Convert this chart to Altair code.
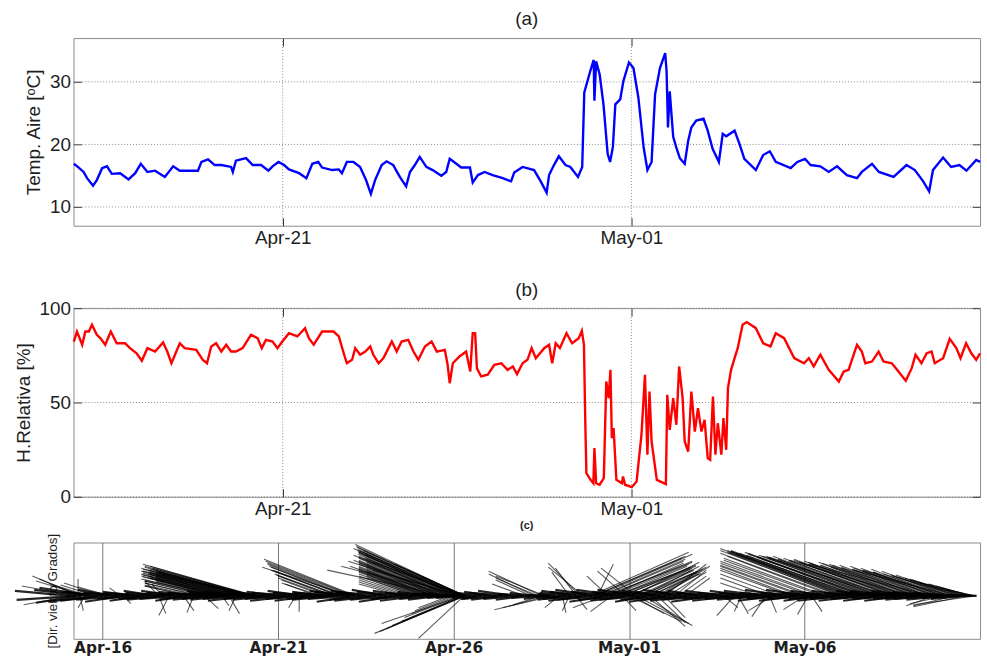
import altair as alt
import pandas as pd

FONT = "Liberation Sans"
START = pd.Timestamp("2013-04-15 00:00:00")

# ---------------- (a) air temperature: day offset from Apr-15, value in degC
TEMP_DAY = [0.01, 0.15, 0.29, 0.39, 0.56, 0.67, 0.82, 0.96, 1.10, 1.34, 1.58, 1.77, 1.93, 2.12, 2.34, 2.62,
            2.86, 3.05, 3.33, 3.57, 3.67, 3.86, 4.05, 4.24, 4.52, 4.57, 4.66, 4.95, 5.14, 5.38, 5.59, 5.71,
            5.88, 6.04, 6.18, 6.47, 6.68, 6.85, 7.02, 7.13, 7.42, 7.61, 7.70, 7.84, 8.03, 8.22, 8.39, 8.53,
            8.65, 8.84, 8.98, 9.17, 9.36, 9.54, 9.65, 9.79, 9.93, 10.12, 10.30, 10.55, 10.69, 10.79, 10.98,
            11.12, 11.37, 11.45, 11.60, 11.79, 12.02, 12.31, 12.55, 12.64, 12.88, 13.21, 13.40, 13.57, 13.64,
            13.78, 13.92, 14.11, 14.25, 14.47, 14.59, 14.65, 14.82, 14.92, 14.94, 14.99, 15.09, 15.20, 15.32,
            15.39, 15.47, 15.54, 15.68, 15.77, 15.93, 16.06, 16.20, 16.35, 16.46, 16.58, 16.68, 16.82, 16.97,
            17.01, 17.05, 17.10, 17.20, 17.29, 17.39, 17.53, 17.63, 17.72, 17.86, 18.07, 18.19, 18.33, 18.51,
            18.62, 18.72, 18.96, 19.10, 19.24, 19.57, 19.78, 19.97, 20.14, 20.57, 20.76, 20.98, 21.14, 21.42,
            21.66, 21.90, 22.18, 22.47, 22.61, 22.90, 23.10, 23.52, 23.89, 24.13, 24.37, 24.54, 24.65, 24.94,
            25.17, 25.41, 25.61, 25.89, 26.0]
TEMP_VAL = [16.9, 16.3, 15.6, 14.6, 13.4, 14.3, 16.2, 16.5, 15.3, 15.4, 14.4, 15.4, 16.9, 15.6, 15.8, 14.8,
            16.5, 15.8, 15.8, 15.8, 17.2, 17.6, 16.7, 16.7, 16.4, 15.6, 17.4, 17.8, 16.7, 16.7, 15.8, 16.5,
            17.2, 16.7, 16.0, 15.4, 14.6, 16.9, 17.2, 16.3, 15.9, 16.0, 15.4, 17.2, 17.2, 16.4, 14.3, 12.1,
            14.3, 16.7, 17.3, 16.7, 14.8, 13.3, 15.6, 16.7, 18.0, 16.4, 15.9, 15.0, 15.6, 17.7, 16.9,
            16.3, 16.3, 13.9, 15.1, 15.6, 15.1, 14.6, 14.1, 15.5, 16.4, 15.9, 14.1, 12.3, 15.1,
            16.7, 18.1, 16.7, 16.4, 14.8, 16.4, 28.3, 31.7, 33.5, 27.0, 33.3, 31.2, 26.4, 18.5,
            17.2, 19.6, 26.4, 27.2, 30.1, 33.1, 32.2, 27.5, 19.6, 15.9, 17.2, 28.0, 32.2, 34.6,
            31.7, 22.7, 28.5, 21.2, 19.5, 17.8, 16.9, 20.6, 22.7, 23.8, 24.1, 22.2, 19.3, 17.2,
            21.7, 21.3, 22.2, 20.1, 17.7, 15.9, 18.3, 18.9, 17.2, 16.2, 17.2, 17.7, 16.7, 16.5,
            15.6, 16.5, 15.1, 14.6, 15.6, 16.9, 15.6, 14.8, 16.7, 15.9, 14.1, 12.5, 15.9, 17.9,
            16.4, 16.7, 15.8, 17.5, 17.2]

# ---------------- (b) relative humidity: day offset from Apr-15, value in %
HUM_DAY = [0.01, 0.10, 0.25, 0.34, 0.44, 0.53, 0.67, 0.77, 0.91, 1.07, 1.24, 1.48, 1.62, 1.81, 1.96, 2.12,
           2.34, 2.57, 2.69, 2.81, 2.95, 3.05, 3.19, 3.52, 3.71, 3.83, 3.95, 4.09, 4.24, 4.38, 4.52, 4.66,
           4.85, 5.09, 5.28, 5.40, 5.52, 5.71, 5.85, 5.99, 6.18, 6.42, 6.64, 6.75, 6.89, 7.13, 7.46, 7.61,
           7.75, 7.84, 7.99, 8.08, 8.22, 8.37, 8.51, 8.60, 8.75, 8.89, 9.13, 9.27, 9.41, 9.60, 9.75, 9.89,
           10.08, 10.27, 10.42, 10.65, 10.73, 10.79, 10.88, 11.07, 11.26, 11.38, 11.45, 11.52, 11.57, 11.69,
           11.88, 12.07, 12.27, 12.45, 12.60, 12.72, 12.88, 13.02, 13.14, 13.26, 13.50, 13.64, 13.73, 13.83,
           13.95, 14.14, 14.30, 14.49, 14.58, 14.64, 14.68, 14.71, 14.83, 14.91, 14.94, 14.99, 15.09, 15.21,
           15.28, 15.35, 15.40, 15.44, 15.49, 15.57, 15.73, 15.76, 15.82, 16.01, 16.15, 16.29, 16.34, 16.39,
           16.46, 16.52, 16.58, 16.73, 16.99, 17.03, 17.10, 17.20, 17.29, 17.37, 17.47, 17.53, 17.63, 17.72,
           17.82, 17.91, 18.01, 18.10, 18.19, 18.26, 18.34, 18.41, 18.48, 18.58, 18.64, 18.72, 18.77, 18.86,
           18.96, 19.05, 19.19, 19.31, 19.57, 19.78, 19.99, 20.14, 20.38, 20.67, 20.95, 21.09, 21.23, 21.42,
           21.66, 21.95, 22.09, 22.23, 22.47, 22.61, 22.71, 22.90, 23.09, 23.23, 23.47, 23.66, 23.87, 24.04,
           24.15, 24.32, 24.47, 24.61, 24.70, 24.94, 25.13, 25.32, 25.44, 25.60, 25.75, 25.89, 26.0]
HUM_VAL = [82.3, 87.6, 80.6, 87.6, 87.6, 91.2, 85.9, 84.1, 80.6, 87.6, 81.4, 81.4, 78.8, 76.1, 72.1, 78.8,
           77.0, 81.8, 77.0, 70.8, 77.0, 81.4, 78.8, 77.9, 72.6, 70.8, 79.7, 81.4, 77.0, 80.6, 77.0, 77.0,
           78.8, 85.9, 84.1, 78.8, 83.2, 82.3, 78.8, 82.3, 86.7, 85.0, 89.4, 84.1, 80.6, 87.6, 87.6, 85.0,
           76.1, 70.8, 72.6, 78.8, 75.3, 77.0, 79.7, 75.3, 70.8, 73.5, 82.3, 77.0, 82.3, 83.2, 77.0, 72.6,
           79.7, 82.3, 77.0, 77.9, 70.0, 60.2, 70.8, 74.4, 77.0, 66.4, 86.7, 86.7, 68.2, 63.8,
           64.7, 70.0, 70.8, 67.3, 69.1, 65.0, 70.8, 72.6, 78.8, 73.5, 78.8, 80.6, 70.8, 81.4,
           78.8, 86.7, 81.4, 84.1, 88.0, 80.6, 38.2, 12.5, 9.0, 7.2, 25.8, 7.2, 6.4, 9.9,
           61.1, 52.3, 67.3, 31.1, 36.4, 9.0, 7.2, 10.8, 6.4, 5.1, 8.1, 32.9, 48.8, 64.7,
           22.3, 55.8, 29.3, 9.0, 6.7, 54.1, 35.5, 52.3, 38.2, 69.1, 52.3, 29.3, 24.0, 55.8,
           34.6, 47.0, 34.6, 40.8, 20.5, 19.6, 53.2, 22.3, 39.0, 22.3, 41.7, 24.9, 57.6, 67.3,
           73.5, 78.8, 91.2, 92.6, 89.4, 81.4, 79.7, 86.7, 84.1, 73.5, 70.8, 73.5, 69.1, 75.3,
           67.3, 61.1, 66.4, 67.3, 80.6, 77.0, 70.8, 71.7, 77.0, 71.7, 70.8, 66.4, 61.5, 68.2,
           75.3, 70.8, 76.1, 77.0, 70.8, 73.5, 83.7, 78.8, 73.5, 81.4, 76.1, 72.6, 76.1]

# ---------------- (c) wind feathers: origin day, dx in days, dy
BAND_T = [0.1, 0.4, 0.7, 1.0, 1.3, 1.6, 1.9, 2.2, 2.5, 2.8, 3.1, 3.4, 3.7, 4.0, 4.3, 4.6, 4.9, 5.2, 5.5,
          5.8, 6.1, 6.4, 6.7, 7.0, 7.3, 7.6, 7.9, 8.2, 8.5, 8.8, 9.1, 9.4, 9.7, 10.0, 10.3, 10.6, 10.9,
          11.2, 11.5, 11.8, 12.1, 12.4, 12.7, 13.0, 13.3, 13.6, 13.9, 14.2, 14.5, 14.8, 15.1, 15.4, 15.7,
          16.0, 16.3, 16.6, 16.9, 17.2, 17.5, 17.8, 18.1, 18.4, 18.7, 19.0, 19.3, 19.6, 19.9, 20.2, 20.5,
          20.8, 21.1, 21.4, 21.7, 22.0, 22.3, 22.6, 22.9, 23.2, 23.5, 23.8, 24.1, 24.4, 24.7, 25.0, 25.3,
          25.6, 25.9]
BAND_U = [-1.6, -1.3, -1.5, -1.2, -1.0, -1.1, -0.9, -1.0, -0.9, -1.1, -1.0, -0.9, -1.1, -1.0, -0.9, -1.1,
          -1.0, -1.2, -1.0, -1.1, -1.0, -1.2, -1.0, -1.1, -0.9, -1.2, -1.0, -1.1, -1.0, -1.2, -1.0, -1.1,
          -1.0, -1.1, -0.9, -0.9, -0.8, -0.7, -0.5, -0.6, -0.8, -0.9, -1.0, -0.8, -0.7, -0.6, -0.5, -0.8,
          -1.0, -1.1, -1.2, -1.1, -1.2, -1.1, -1.2, -1.0, -1.1, -1.2, -1.1, -1.2, -1.0, -1.2, -1.1, -1.2,
          -1.0, -1.1, -1.2, -1.1, -1.2, -1.1, -1.2, -1.0, -1.1, -1.2, -1.1, -1.2, -1.0, -1.1, -1.2, -1.1,
          -1.2, -1.1, -1.2, -1.1, -1.2, -1.0, -1.1]
BAND_V = [0.5, -0.7, 0.8, -0.5, 0.6, -0.6, 0.4, -0.5, 0.5, -0.4, 0.5, -0.5, 0.4, -0.4, 0.5, -0.4,
          0.4, -0.5, 0.5, -0.4, 0.4, -0.5, 0.5, -0.5, 0.4, -0.4, 0.5, -0.6, 0.5, -0.5, 0.6, -0.6,
          0.5, -0.5, 0.4, -0.4, 0.3, -0.2, 0.15, -0.3, 0.4, -0.4, 0.5, -0.4, 0.3, -0.3, 0.2, -0.4,
          0.5, -0.5, 0.6, -0.6, 0.6, -0.5, 0.6, -0.6, 0.5, -0.6, 0.6, -0.5, 0.5, -0.6, 0.5, -0.5,
          0.5, -0.4, 0.5, -0.5, 0.6, -0.5, 0.6, -0.5, 0.5, -0.5, 0.5, -0.5, 0.5, -0.5, 0.5, -0.5,
          0.5, -0.4, 0.4, -0.4, 0.3, -0.3, 0.1]
BAND2_T = [0.25, 0.55, 0.85, 1.15, 1.45, 1.75, 2.05, 2.35, 2.65, 2.95,
           3.25, 3.55, 3.85, 4.15, 4.45, 4.75, 5.05, 5.35, 5.65, 5.95,
           6.25, 6.55, 6.85, 7.15, 7.45, 7.75, 8.05, 8.35, 8.65, 8.95,
           9.25, 9.55, 9.85, 10.15, 10.45, 10.75, 11.05, 11.35, 11.65, 11.95,
           12.25, 12.55, 12.85, 13.15, 13.45, 13.75, 14.05, 14.35, 14.65, 14.95,
           15.25, 15.55, 15.85, 16.15, 16.45, 16.75, 17.05, 17.35, 17.65, 17.95,
           18.25, 18.55, 18.85, 19.15, 19.45, 19.75, 20.05, 20.35, 20.65, 20.95,
           21.25, 21.55, 21.85, 22.15, 22.45, 22.75, 23.05, 23.35, 23.65, 23.95,
           24.25, 24.55, 24.85, 25.15, 25.45, 25.75]
BAND2_U = [-1.7, -1.5, -1.4, -1.3, -1.2, -1.3, -1.2, -1.3, -1.2, -1.3,
           -1.2, -1.3, -1.2, -1.3, -1.2, -1.3, -1.2, -1.3, -1.2, -1.3,
           -1.2, -1.3, -1.2, -1.3, -1.2, -1.3, -1.2, -1.3, -1.2, -1.3,
           -1.2, -1.3, -1.2, -1.1, -1.0, -0.9, -0.8, -0.6, -0.7, -0.9,
           -1.0, -1.1, -1.0, -0.9, -0.8, -0.6, -0.7, -0.9, -1.1, -1.2,
           -1.3, -1.2, -1.3, -1.2, -1.3, -1.2, -1.3, -1.2, -1.3, -1.2,
           -1.3, -1.2, -1.3, -1.2, -1.3, -1.2, -1.3, -1.2, -1.3, -1.2,
           -1.3, -1.2, -1.3, -1.2, -1.3, -1.2, -1.3, -1.2, -1.3, -1.2,
           -1.3, -1.2, -1.3, -1.2, -1.1, -1.0]
BAND2_V = [-0.4, 0.6, -0.6, 0.4, -0.4, 0.3, -0.3, 0.3, -0.3, 0.3,
           -0.3, 0.3, -0.3, 0.3, -0.3, 0.3, -0.3, 0.3, -0.3, 0.3,
           -0.3, 0.3, -0.3, 0.3, -0.3, 0.3, -0.3, 0.4, -0.4, 0.4,
           -0.4, 0.4, -0.3, 0.3, -0.3, 0.2, -0.2, 0.1, -0.2, 0.3,
           -0.3, 0.3, -0.3, 0.2, -0.2, 0.1, -0.2, 0.3, -0.3, 0.4,
           -0.4, 0.4, -0.4, 0.4, -0.4, 0.4, -0.4, 0.4, -0.4, 0.4,
           -0.4, 0.3, -0.3, 0.3, -0.3, 0.3, -0.3, 0.3, -0.3, 0.3,
           -0.3, 0.3, -0.3, 0.3, -0.3, 0.3, -0.3, 0.3, -0.3, 0.3,
           -0.3, 0.3, -0.3, 0.2, -0.2, 0.1]

FAN_A = [(0.3, -1.3, 2.0), (0.4, -1.2, 1.7), (0.5, -1.4, 1.5), (0.6, -1.1, 1.2), (0.3, 0.0, 1.7),
         (0.8, -1.0, 1.1), (1.0, -1.1, 1.3), (1.2, -0.9, 0.9), (0.35, 0.1, -1.5), (0.5, -0.2, -1.2),
         (1.5, -0.3, 0.8), (1.6, 0.2, -0.8), (0.2, -1.5, 1.0), (0.15, -1.4, -0.9)]
FAN_B = [(5.35, -3.2, 3.2), (5.2, -3.0, 2.9), (5.1, -2.8, 2.6), (5.0, -2.9, 2.8), (4.9, -2.6, 2.4),
         (4.8, -2.7, 2.5), (4.7, -2.4, 2.2), (4.6, -2.5, 2.2), (4.5, -2.2, 2.0), (4.4, -2.3, 2.0),
         (4.3, -2.0, 1.8), (4.2, -2.1, 1.7), (4.1, -1.9, 1.6), (4.0, -1.8, 1.5), (3.9, -1.7, 1.5),
         (3.8, -1.6, 1.3), (3.7, -1.5, 1.3), (3.6, -1.4, 1.1), (3.5, -1.3, 1.0), (3.4, -1.2, 1.0),
         (2.6, -0.4, 1.5), (2.7, -0.3, 1.2),
         (5.3, -3.1, 3.0), (5.25, -2.9, 3.0), (5.15, -3.0, 2.7), (5.05, -2.7, 2.7), (4.95, -2.8, 2.5),
         (4.85, -2.5, 2.4), (4.75, -2.6, 2.3), (4.65, -2.3, 2.2), (4.55, -2.4, 2.1), (4.45, -2.1, 1.9),
         (4.35, -2.2, 1.9), (4.25, -1.9, 1.8), (5.3, -2.7, 2.4), (5.2, -2.5, 2.1),
         (5.33, -2.9, 2.8), (5.22, -2.8, 2.7), (5.12, -2.6, 2.5), (5.02, -2.5, 2.4), (4.92, -2.4, 2.3),
         (4.82, -2.3, 2.1), (4.72, -2.2, 2.0), (4.62, -2.1, 1.9), (4.52, -2.0, 1.8), (4.42, -1.9, 1.7),
         (4.32, -1.8, 1.6), (4.22, -1.7, 1.5), (4.12, -1.6, 1.4), (5.35, -2.2, 1.8), (5.3, -1.8, 1.4),
         (5.25, -1.4, 1.1),
         (2.6, 0.2, -1.8), (2.9, -0.3, -2.0), (3.3, 0.3, -1.5), (3.6, -0.2, -1.7), (3.9, 0.4, -1.3),
         (4.4, 0.2, -1.0), (4.6, 0.3, -1.8), (4.8, -0.2, -1.5), (6.6, 0.0, -1.6), (6.5, -0.2, -1.2)]
FAN_C = [(8.2, -2.6, 3.7), (8.1, -2.4, 3.3), (8.0, -2.3, 3.2), (7.9, -2.1, 2.9), (7.8, -2.0, 2.6),
         (7.7, -1.8, 2.5), (7.6, -1.7, 2.2), (7.5, -1.5, 2.0), (7.4, -1.4, 1.8), (7.3, -1.2, 1.6),
         (7.2, -1.1, 1.3), (7.1, -0.9, 1.2), (8.05, -2.5, 2.9),
         (8.15, -2.5, 3.5), (7.95, -2.2, 3.0), (7.75, -1.9, 2.6), (7.55, -1.6, 2.1)]
FAN_D = [(11.3, -3.1, 5.2), (11.25, -3.0, 4.9), (11.2, -2.9, 4.6), (11.15, -3.0, 4.8), (11.1, -2.8, 4.4),
         (11.0, -2.7, 4.3), (10.95, -2.8, 4.1), (10.9, -2.6, 4.0), (10.8, -2.5, 3.8), (10.75, -2.6, 3.6),
         (10.7, -2.4, 3.6), (10.6, -2.3, 3.4), (10.5, -2.2, 3.2), (10.45, -2.4, 3.0), (10.4, -2.1, 3.0),
         (10.3, -2.0, 2.8), (10.2, -1.9, 2.6), (10.1, -1.8, 2.4), (10.0, -1.7, 2.2), (9.9, -1.6, 2.0),
         (9.8, -1.5, 1.8), (9.7, -1.4, 1.6), (9.6, -1.3, 1.4), (9.5, -1.2, 1.2), (11.0, -3.2, 3.0),
         (10.8, -3.4, 2.6), (11.2, -2.5, 2.6),
         (11.28, -3.05, 5.0), (11.22, -2.95, 4.7), (11.12, -2.85, 4.5), (11.05, -2.75, 4.4),
         (10.98, -2.7, 4.2), (10.85, -2.55, 3.9), (10.65, -2.35, 3.5), (10.55, -2.25, 3.3),
         (10.35, -2.05, 2.9), (10.25, -1.95, 2.7), (10.15, -1.85, 2.5), (11.3, -2.6, 3.4),
         (11.25, -2.8, 3.8), (11.1, -3.1, 3.5),
         (11.32, -2.9, 4.6), (11.18, -2.7, 4.3), (11.08, -2.6, 4.1), (10.92, -2.4, 3.8), (10.82, -2.3, 3.6),
         (10.72, -2.2, 3.4), (10.62, -2.1, 3.2), (10.52, -2.0, 3.0), (10.42, -1.9, 2.8), (10.32, -1.8, 2.6),
         (10.22, -1.7, 2.4), (10.12, -1.6, 2.2), (10.02, -1.5, 2.0), (9.92, -1.4, 1.8), (11.33, -2.0, 3.2),
         (11.3, -1.6, 2.6), (11.28, -1.2, 1.9),
         (11.35, -2.6, -3.8), (11.3, -2.4, -3.6), (11.3, -2.2, -3.3), (11.25, -2.0, -3.0), (11.3, -1.3, -4.3),
         (11.3, -1.8, -2.6), (11.2, -1.6, -2.2), (11.25, -2.3, -2.8), (11.1, -1.3, -1.8), (11.0, -1.1, -1.5),
         (10.9, -0.9, -1.2)]
FAN_E = [(13.5, -1.5, 2.5), (13.3, -1.3, 2.2), (13.6, -1.4, 2.0), (13.2, -1.0, 1.6), (13.4, -1.2, 1.8),
         (13.0, -0.9, 1.2), (13.86, -1.7, -1.4), (13.7, -1.3, -1.2), (13.5, -0.8, -0.9),
         (14.6, -0.9, 3.3), (14.5, -0.6, 2.8), (14.3, -0.5, 2.4), (14.7, -1.0, 2.9), (15.1, 0.45, 3.2),
         (14.1, 0.1, -1.7), (14.3, -0.2, -1.5), (14.5, 0.3, -1.4), (14.0, -0.4, -1.2)]
FAN_F = [(14.9, 2.8, 4.4), (15.0, 2.6, 4.0), (15.2, 2.4, 3.7), (15.3, 2.5, 3.4), (15.5, 2.2, 3.2),
         (15.6, 2.3, 3.0), (15.8, 2.0, 2.8), (16.0, 1.8, 2.6), (16.1, 1.9, 3.4), (16.3, 1.6, 2.4),
         (16.4, 1.6, 3.0), (16.6, 1.4, 2.2), (16.8, 1.3, 2.7), (17.0, 1.2, 3.2), (17.1, 1.1, 2.4),
         (17.3, 0.9, 2.6), (17.4, 0.8, 2.0), (17.6, 0.7, 1.8), (15.9, -0.8, 2.5), (16.2, -1.0, 2.8),
         (15.4, -0.6, 2.0), (15.1, 2.7, 4.2), (15.4, 2.4, 3.5), (15.7, 2.2, 3.1), (16.5, 1.7, 2.9),
         (16.9, 1.4, 3.0),
         (15.0, 2.5, 3.8), (15.25, 2.3, 3.5), (15.45, 2.1, 3.3), (15.65, 2.0, 3.0), (15.85, 1.9, 2.9),
         (16.05, 1.7, 2.7), (16.25, 1.6, 2.6), (16.45, 1.5, 2.5), (16.65, 1.3, 2.4), (16.85, 1.2, 2.3),
         (16.0, 1.5, -2.6), (16.2, 1.6, -3.0), (16.4, 1.3, -2.8), (16.6, 1.0, -3.1), (16.8, 0.8, -2.7),
         (17.0, 0.6, -2.2), (16.1, 0.9, -1.8), (15.8, 0.4, -1.5), (15.5, -0.6, -1.6), (15.3, -0.9, -1.2)]
FAN_G = [(22.1, -3.5, 4.8), (22.3, -3.4, 4.5), (22.0, -3.2, 4.4), (22.5, -3.6, 4.6), (22.7, -3.3, 4.3),
         (21.8, -3.0, 4.0), (22.9, -3.2, 4.1), (23.1, -3.0, 4.0), (23.3, -2.9, 3.8), (23.5, -2.8, 3.7),
         (23.7, -2.6, 3.4), (23.9, -2.5, 3.4), (24.1, -2.4, 3.2), (24.3, -2.3, 3.1), (24.5, -2.2, 3.0),
         (24.7, -2.1, 2.8), (24.9, -2.0, 2.7), (25.1, -1.9, 2.5), (25.3, -1.7, 2.1), (25.5, -1.5, 1.7),
         (25.7, -1.2, 1.2), (25.85, -0.8, 0.6), (21.5, -2.8, 3.6), (21.2, -2.6, 3.3), (20.9, -2.3, 3.0),
         (20.6, -2.0, 2.6), (20.3, -1.7, 2.2), (20.0, -1.4, 1.8), (19.7, -1.1, 1.3), (24.0, -3.4, 3.6),
         (24.6, -3.5, 3.2), (25.2, -2.8, 2.6), (23.4, -3.6, 4.0),
         (22.2, -3.4, 4.6), (22.4, -3.5, 4.5), (22.6, -3.3, 4.4), (22.8, -3.4, 4.2), (23.0, -3.1, 4.0),
         (23.2, -3.2, 3.9), (23.6, -2.9, 3.6), (23.8, -2.8, 3.5), (24.2, -2.7, 3.3), (24.4, -2.6, 3.1),
         (24.8, -2.4, 2.8), (25.0, -2.3, 2.6), (25.4, -1.9, 2.0), (25.6, -1.6, 1.6), (21.6, -2.9, 3.8),
         (21.3, -2.7, 3.5), (21.0, -2.4, 3.1), (20.7, -2.1, 2.8),
         (21.9, -3.3, 4.3), (22.05, -3.45, 4.6), (22.15, -3.3, 4.4), (22.25, -3.2, 4.2), (22.35, -3.3, 4.3),
         (22.45, -3.1, 4.1), (22.55, -3.4, 4.3), (22.65, -3.0, 3.9), (22.75, -3.1, 4.0), (22.85, -2.9, 3.8),
         (22.95, -3.0, 3.9), (23.05, -2.8, 3.7), (23.15, -2.9, 3.7), (23.25, -2.7, 3.5), (23.35, -2.8, 3.6),
         (23.45, -2.6, 3.4), (23.55, -2.7, 3.4), (23.65, -2.5, 3.2), (23.75, -2.6, 3.3), (23.85, -2.4, 3.1),
         (23.95, -2.5, 3.1), (24.05, -2.3, 2.9), (24.15, -2.4, 3.0), (24.25, -2.2, 2.8), (24.35, -2.3, 2.9),
         (24.45, -2.1, 2.7), (24.55, -2.2, 2.7), (24.65, -2.0, 2.5), (24.75, -2.1, 2.6), (24.85, -1.9, 2.4),
         (24.95, -2.0, 2.4), (25.05, -1.8, 2.2), (25.15, -1.7, 2.1), (25.25, -1.6, 1.9), (25.35, -1.5, 1.8),
         (25.45, -1.4, 1.6), (25.55, -1.3, 1.4), (25.65, -1.1, 1.2), (25.75, -1.0, 1.0), (25.8, -0.9, 0.8),
         (25.9, -1.8, -0.9), (25.6, -1.5, -1.1), (25.3, -1.2, -1.0), (25.0, -1.0, -0.8), (24.7, -0.8, -1.0),
         (19.0, -0.5, -2.0), (19.1, 0.3, -1.8), (19.2, -0.2, -1.6), (19.9, -0.4, -2.1), (20.0, 0.2, -1.7),
         (20.1, -0.7, -1.5), (21.1, -0.3, -1.9), (21.2, 0.3, -1.6), (21.0, -0.6, -1.4), (18.7, 0.4, -1.2)]

TEMP_TICKS = [10, 20, 30]
HUM_TICKS = [0, 50, 100]


def ts(day):
    return (START + pd.to_timedelta(day, unit="D")).round("s")


temp_df = pd.DataFrame({"t": [ts(d) for d in TEMP_DAY], "v": TEMP_VAL})
hum_df = pd.DataFrame({"t": [ts(d) for d in HUM_DAY], "v": HUM_VAL})

bt = BAND_T + BAND2_T
bu = BAND_U + BAND2_U
bv = BAND_V + BAND2_V
band_df = pd.DataFrame({
    "t": [ts(d) for d in bt],
    "t2": [ts(d + u) for d, u in zip(bt, bu)],
    "y0": [0.0] * len(bt),
    "y1": bv,
})
fans = FAN_A + FAN_B + FAN_C + FAN_D + FAN_E + FAN_F + FAN_G
fan_df = pd.DataFrame({
    "t": [ts(d) for d, u, v in fans],
    "t2": [ts(d + u) for d, u, v in fans],
    "y0": [0.0] * len(fans),
    "y1": [v for d, u, v in fans],
})

X_DOM = [alt.DateTime(year=2013, month=4, date=15), alt.DateTime(year=2013, month=5, date=11)]
AB_TICKS = [alt.DateTime(year=2013, month=4, date=21), alt.DateTime(year=2013, month=5, date=1)]
AB_TICK_DATES = pd.DataFrame({"t": [pd.Timestamp("2013-04-21"), pd.Timestamp("2013-05-01")]})
C_TICKS = [alt.DateTime(year=2013, month=4, date=16), alt.DateTime(year=2013, month=4, date=21),
           alt.DateTime(year=2013, month=4, date=26), alt.DateTime(year=2013, month=5, date=1),
           alt.DateTime(year=2013, month=5, date=6)]

W = 913
TXT = "#1e1e1e"
FS = 19
GRID = "#8a8a8a"


def line_panel(df, color, y_dom, y_vals, ytitle, ptitle, height, toff):
    xs = alt.Scale(domain=X_DOM)
    ys = alt.Scale(domain=y_dom, nice=False, zero=False)
    hgrid = alt.Chart(pd.DataFrame({"v": y_vals})).mark_rule(
        color=GRID, strokeDash=[1, 2], strokeWidth=1).encode(
        y=alt.Y("v:Q", scale=ys, axis=None))
    vgrid = alt.Chart(AB_TICK_DATES).mark_rule(
        color=GRID, strokeDash=[1, 2], strokeWidth=1).encode(
        x=alt.X("t:T", scale=xs, axis=None))
    base = alt.Chart(df)
    main = base.mark_line(color=color, strokeWidth=2.4).encode(
        x=alt.X("t:T", scale=xs, axis=alt.Axis(
            values=AB_TICKS, format="%b-%d", title=None, grid=False,
            tickSize=8, tickColor="#333", offset=-8, domain=False,
            labelPadding=3, labelFontSize=FS, labelColor=TXT, labelFlush=False)),
        y=alt.Y("v:Q", scale=ys, axis=alt.Axis(
            values=y_vals, grid=False, tickSize=8,
            tickColor="#333", offset=-8, domain=False, labelPadding=3, labelFontSize=FS,
            labelColor=TXT, title=ytitle, titleFontSize=FS, titleFontWeight="normal",
            titleColor=TXT, titlePadding=6)),
    )
    ghost = base.mark_line(opacity=0).encode(
        x=alt.X("t:T", scale=xs, axis=alt.Axis(
            orient="top", values=AB_TICKS, labels=False, grid=False, domain=False,
            tickSize=8, tickColor="#333", offset=-8, title=None, minExtent=0, maxExtent=0)),
        y=alt.Y("v:Q", scale=ys, axis=alt.Axis(
            orient="right", values=y_vals, labels=False, grid=False, domain=False,
            tickSize=8, tickColor="#333", offset=-8, title=None, minExtent=0, maxExtent=0)),
    )
    return alt.layer(hgrid, vgrid, main, ghost).resolve_axis(
        x="independent", y="independent").properties(
        width=W, height=height,
        title=alt.TitleParams(ptitle, fontSize=FS, fontWeight="normal", color=TXT,
                              offset=toff, anchor="middle"))


panel_a = line_panel(temp_df, "#0000ff", [7, 37], TEMP_TICKS, "Temp. Aire [ᵒC]", "(a)", 189, 9)
panel_b = line_panel(hum_df, "#ff0000", [0, 100], HUM_TICKS, "H.Relativa [%]", "(b)", 190, -1)

xc = alt.X("t:T", scale=alt.Scale(domain=X_DOM, range=[-6, W]), axis=alt.Axis(
    values=C_TICKS, format="%b-%d", title=None, grid=True, gridColor="#555", gridWidth=0.8,
    ticks=False, domain=False, labelPadding=2, labelFontSize=15.5, labelFontWeight="bold",
    labelFont="DejaVu Sans", labelColor=TXT, labelFlush=False))
yc = alt.Y("y0:Q", scale=alt.Scale(domain=[-4.35, 5.4], nice=False, zero=False), axis=alt.Axis(
    labels=False, ticks=False, grid=False, domain=False, title="[Dir. viento Grados]",
    titleFontSize=13.5, titleFontWeight="normal", titleColor=TXT, titlePadding=14))

band = alt.Chart(band_df).mark_rule(color="black", strokeWidth=2.2, opacity=0.85).encode(
    x=xc, x2="t2:T", y=yc, y2="y1:Q")
fan = alt.Chart(fan_df).mark_rule(color="black", strokeWidth=1.1, opacity=0.65).encode(
    x=xc, x2="t2:T", y=yc, y2="y1:Q")
panel_c = alt.layer(band, fan).properties(
    width=W, height=97,
    title=alt.TitleParams("(c)", fontSize=11, fontWeight="bold", color=TXT,
                          offset=2, anchor="middle"))


def spacer(h):
    return alt.Chart(pd.DataFrame({"z": [0]})).mark_point(opacity=0).encode(
        x=alt.X("z:Q", axis=None), y=alt.Y("z:Q", axis=None)
    ).properties(width=W, height=h, view=alt.ViewBackground(stroke=None))


chart = alt.vconcat(panel_a, spacer(63), panel_b, spacer(26), panel_c,
                    spacing=10, bounds="flush").properties(
    padding={"left": 13, "top": 7, "right": 0, "bottom": 0}
).configure(font=FONT).configure_view(stroke="#8c8c8c", strokeWidth=1).configure_axis(
    labelFont=FONT, titleFont=FONT)

chart.save("out.html", embed_options={"renderer": "svg", "actions": False})
